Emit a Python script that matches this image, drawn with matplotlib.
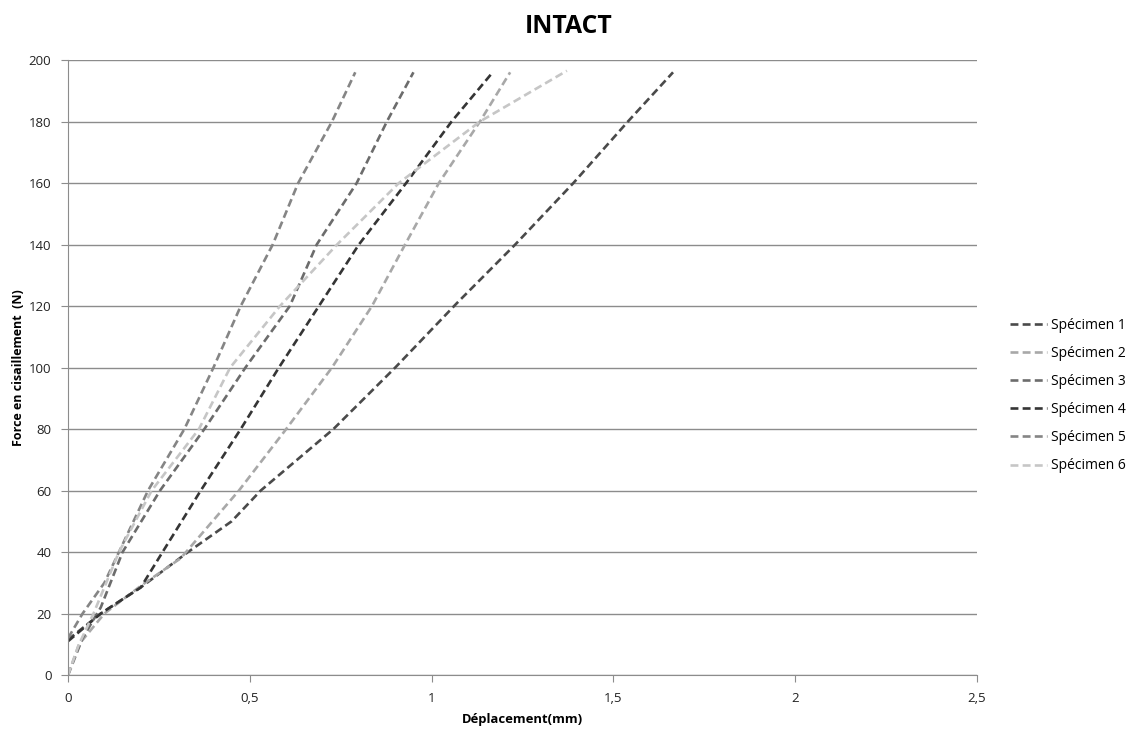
import matplotlib
matplotlib.use('Agg')
import matplotlib.pyplot as plt

plt.rcParams['font.family'] = ['Open Sans', 'DejaVu Sans']

# déplacement (mm) / force (N)
spec1_x = [0, 0.09, 0.20, 0.33, 0.45, 0.53, 0.60, 0.73, 0.90, 1.07, 1.23, 1.39, 1.54, 1.664]
spec1_y = [11.5, 20, 28.5, 40, 50, 60, 67, 80, 100, 121, 140, 160, 180, 196]

spec2_x = [0, 0.03, 0.10, 0.20, 0.31, 0.47, 0.60, 0.726, 0.836, 0.927, 1.02, 1.133, 1.216]
spec2_y = [0, 10, 20, 29, 38, 60, 80, 100, 120, 140, 160, 180, 196]

spec3_x = [0, 0.04, 0.09, 0.15, 0.253, 0.375, 0.488, 0.61, 0.684, 0.794, 0.877, 0.95]
spec3_y = [0, 12, 22, 40, 60, 80, 100, 120, 140, 160, 180, 196]

spec4_x = [0, 0.09, 0.20, 0.26, 0.365, 0.475, 0.58, 0.69, 0.80, 0.93, 1.055, 1.168]
spec4_y = [11, 20, 28.5, 40, 60, 80, 100, 120, 140, 160, 180, 196]

spec5_x = [0, 0.04, 0.10, 0.14, 0.22, 0.32, 0.40, 0.475, 0.563, 0.633, 0.726, 0.79]
spec5_y = [12, 20, 30, 40, 60, 80, 100, 120, 140, 160, 180, 196]

spec6_x = [0, 0.03, 0.07, 0.14, 0.23, 0.36, 0.446, 0.583, 0.74, 0.91, 1.133, 1.372]
spec6_y = [0, 10, 20, 40, 60, 80, 100, 120, 140, 160, 180, 196.5]

labels = ['Spécimen 1', 'Spécimen 2', 'Spécimen 3', 'Spécimen 4', 'Spécimen 5', 'Spécimen 6']
colors = ['#4a4a4a', '#a8a8a8', '#6c6c6c', '#353535', '#858585', '#c6c6c6']

x_ticks = [0, 0.5, 1, 1.5, 2, 2.5]
x_tick_labels = ['0', '0,5', '1', '1,5', '2', '2,5']
y_ticks = [0, 20, 40, 60, 80, 100, 120, 140, 160, 180, 200]

series = [(spec1_x, spec1_y), (spec2_x, spec2_y), (spec3_x, spec3_y),
          (spec4_x, spec4_y), (spec5_x, spec5_y), (spec6_x, spec6_y)]

fig = plt.figure(figsize=(11.38, 7.29), dpi=100)
ax = fig.add_axes([0.0598, 0.074, 0.7987, 0.8437])

for (xs, ys), lab, col in zip(series, labels, colors):
    ax.plot(xs, ys, color=col, lw=1.9, dashes=(3, 1.6), label=lab)

ax.set_xlim(0, 2.5)
ax.set_ylim(0, 200)
ax.set_xticks(x_ticks)
ax.set_xticklabels(x_tick_labels)
ax.set_yticks(y_ticks)

ax.yaxis.grid(True, color='#8c8c8c', lw=1)
ax.set_axisbelow(True)
for s in ['top', 'right']:
    ax.spines[s].set_visible(False)
for s in ['left', 'bottom']:
    ax.spines[s].set_color('#8c8c8c')
ax.tick_params(axis='both', colors='#8c8c8c', length=5, labelsize=9.5, labelcolor='#222222')
ax.tick_params(axis='y', pad=7)
ax.tick_params(axis='x', pad=7)

# title is centred on the whole figure, not the plot area
fig.text(0.5, 0.964, 'INTACT', ha='center', va='center', fontsize=17.8, fontweight='bold')
ax.set_xlabel('Déplacement(mm)', fontsize=9.4, fontweight='bold', labelpad=6)
ax.set_ylabel('Force en cisaillement  (N)', fontsize=9, fontweight='bold', labelpad=3)

ax.legend(loc='center left', bbox_to_anchor=(1.036, 0.4545), frameon=False,
          fontsize=10, borderaxespad=0, borderpad=0, handlelength=2.7,
          handletextpad=0.3, labelspacing=0.95)

fig.savefig('out.png', dpi=100)
